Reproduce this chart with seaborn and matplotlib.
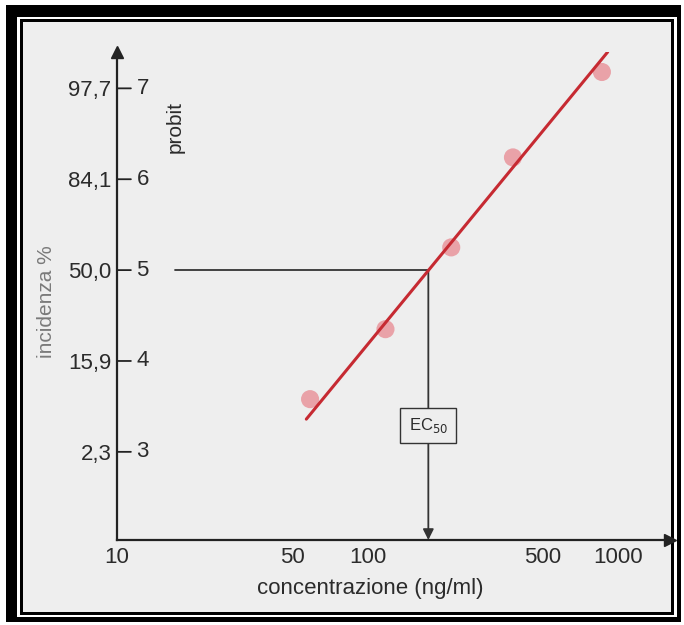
import matplotlib
matplotlib.use('Agg')
import matplotlib.pyplot as plt
from matplotlib.patches import Rectangle
import seaborn as sns

# dati
concentrazione = [59, 118, 216, 381, 863]          # ng/ml
probit_punti = [3.58, 4.35, 5.25, 6.24, 7.18]
retta_conc = [57, 910]
retta_probit = [3.36, 7.40]
ec50 = 175
probit_ticks = [3, 4, 5, 6, 7]
incidenza_labels = ['2,3', '15,9', '50,0', '84,1', '97,7']
conc_ticks = [10, 50, 100, 500, 1000]
conc_labels = ['10', '50', '100', '500', '1000']

sns.set_theme(style='white')
plt.rcParams['font.family'] = ['Liberation Sans', 'DejaVu Sans']

W, H = 684, 625
fig = plt.figure(figsize=(W / 100, H / 100), dpi=100, facecolor='white')


def rect(x0, y0, x1, y1, color):
    # coordinate in pixel dall'alto a sinistra
    fig.add_artist(Rectangle((x0 / W, 1 - y1 / H), (x1 - x0) / W, (y1 - y0) / H,
                             transform=fig.transFigure, facecolor=color,
                             edgecolor='none', zorder=-10))


# cornice nera della scansione
rect(6, 5, 681, 622, 'black')
rect(17, 17, 677, 617, 'white')
rect(20, 19, 674, 615, 'black')
rect(23, 22, 671, 612, '#eeeeee')

ax = fig.add_axes([117 / W, 1 - 540 / H, (670 - 117) / W, (540 - 52) / H])
ax.patch.set_alpha(0)
ax.set_xscale('log')
ax.set_xlim(10, 1614)
ax.set_ylim(2.03, 7.40)

dark = '#222222'
txt = '#2b2b2b'
for s in ['top', 'right']:
    ax.spines[s].set_visible(False)
for s in ['left', 'bottom']:
    ax.spines[s].set_color(dark)
    ax.spines[s].set_linewidth(1.6)

# frecce degli assi
ax.plot(0, 1, '^', transform=ax.transAxes, clip_on=False, ms=9, color=dark)
ax.plot(1, 0, '>', transform=ax.transAxes, clip_on=False, ms=9, color=dark)

# punti e retta probit
sns.scatterplot(x=concentrazione, y=probit_punti, ax=ax, s=170, color='#e9a2a8',
                edgecolor='none', zorder=3)
sns.lineplot(x=retta_conc, y=retta_probit, ax=ax, color='#c62a32', lw=2.2, zorder=4)

# linee EC50
ax.plot([17, ec50], [5, 5], color='#333333', lw=1.3, zorder=2)
ax.annotate('', xy=(ec50, 2.03), xytext=(ec50, 5),
            arrowprops=dict(arrowstyle='-|>', color='#333333', lw=1.3,
                            mutation_scale=16, shrinkA=0, shrinkB=0), zorder=2)
ax.text(ec50, 3.29, r'EC$_{50}$', ha='center', va='center', fontsize=12,
        color=txt, zorder=5,
        bbox=dict(boxstyle='square,pad=0.5', fc='#eeeeee', ec='#333333', lw=1))

ax.minorticks_off()
ax.set_xticks(conc_ticks)
ax.set_xticklabels(conc_labels)
ax.set_yticks(probit_ticks)
ax.set_yticklabels(incidenza_labels)
ax.tick_params(axis='both', direction='in', length=10, width=1.3, color=dark,
               labelsize=16, labelcolor=txt)
ax.tick_params(axis='x', pad=5)
ax.tick_params(axis='y', pad=4, length=0)

# trattini e valori probit a destra dell'asse
for p in probit_ticks:
    ax.annotate('', xy=(0, p), xycoords=('axes fraction', 'data'),
                xytext=(10, 0), textcoords='offset points',
                arrowprops=dict(arrowstyle='-', color=dark, lw=1.3,
                                shrinkA=0, shrinkB=0))
    ax.annotate(str(p), xy=(0, p), xycoords=('axes fraction', 'data'),
                xytext=(14, 0), textcoords='offset points',
                ha='left', va='center', fontsize=16, color=txt)

ax.text(0.105, 0.846, 'probit', transform=ax.transAxes, rotation=90,
        ha='center', va='center', fontsize=15, color=txt)
fig.text(47 / W, 1 - 302 / H, 'incidenza %', rotation=90, ha='center',
         va='center', fontsize=15, color='#7a7a7a')

ax.set_xlabel('concentrazione (ng/ml)', fontsize=16, color=txt)
ax.xaxis.set_label_coords(0.458, -0.078)

fig.savefig('out.png', dpi=100, facecolor=fig.get_facecolor())
